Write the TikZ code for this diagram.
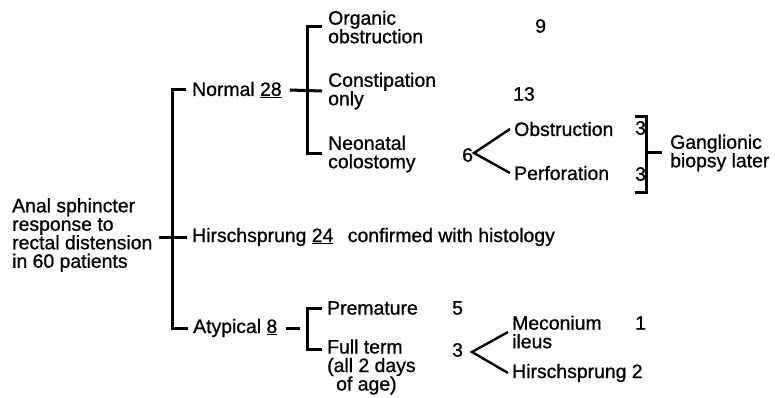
\documentclass[tikz,border=0pt]{standalone}
\usepackage{fontspec}
\setmainfont{Liberation Sans}[FakeBold=0.9]

\begin{document}
\begin{tikzpicture}[x=1pt,y=-1pt,
	txt/.style={anchor=west,inner sep=0pt,align=left,font=\fontsize{19.4}{18.5}\selectfont},
	bar/.style={line width=3pt},
	fork/.style={line width=2.4pt}]
	\useasboundingbox (0,0) rectangle (775,398);

	% first level
	\node[txt] (root) at (12,235) {Anal sphincter\\response to\\rectal distension\\in 60 patients};
	\node[txt] (normal) at (192,90) {Normal \underline{28}};
	\node[txt] (hirsch) at (192,237) {Hirschsprung \underline{24}\hspace{9pt} confirmed with histology};
	\node[txt] (atyp) at (193,328) {Atypical \underline{8}};

	\draw[bar] ([xshift=-6pt]normal.west) -- ++(-14,0) |- ([xshift=-5pt]atyp.west);
	\draw[bar] ([xshift=6pt]root.east |- hirsch.west) -- ([xshift=-5pt]hirsch.west);

	% normal branch
	\node[txt] (organic) at (328,27) {Organic\\obstruction};
	\node[txt] (constip) at (328,91) {Constipation\\only};
	\node[txt] (neonat) at (328,154) {Neonatal\\colostomy};
	\node[txt] (n9) at (535,26) {9};
	\node[txt] (n13) at (513,94) {13};
	\node[txt] (n6) at (462,155) {6};

	\draw[bar] ([xshift=-6pt]organic.west) -- ++(-15,0) |- ([xshift=-6pt]neonat.west);
	\draw[bar] ([xshift=8pt]normal.east) -- ([xshift=-6pt]constip.west);

	\node[txt] (obstr) at (514,129) {Obstruction};
	\node[txt] (perfor) at (514,173) {Perforation};
	\node[txt] (n3a) at (635,128) {3};
	\node[txt] (n3b) at (635,174) {3};
	\node[txt] (gangl) at (670,153) {Ganglionic\\biopsy later};
	\coordinate (fork1) at (474,153);

	\draw[fork] ([xshift=-4pt]obstr.west) -- (fork1) -- ([xshift=-4pt]perfor.west);
	\draw[bar] ([yshift=4pt]n3a.north west) -- ++(11,0) -- ++(0,76) -- ++(-11,0);
	\draw[bar] ([xshift=-8pt]gangl.west) -- ++(-16,0);

	% atypical branch
	\node[txt] (premat) at (327,308) {Premature};
	\node[txt] (fullterm) at (327,367) {Full term\\(all 2 days\\\hspace*{9pt}of age)};
	\node[txt] (n5) at (452,308) {5};
	\node[txt] (n3c) at (452,350) {3};

	\draw[bar] ([xshift=-5pt]premat.west) -- ++(-15,0) |- ([xshift=-5pt,yshift=18pt]fullterm.west);
	\draw[bar] ([xshift=8pt]atyp.east) -- ++(14,0);

	\node[txt] (mecon) at (512,332) {Meconium\\ileus};
	\node[txt] (n1) at (635,323) {1};
	\node[txt] (hirsch2) at (512,373) {Hirschsprung 2};
	\coordinate (fork2) at (472,352);

	\draw[fork] ([xshift=-4pt]mecon.west) -- (fork2) -- ([xshift=-4pt]hirsch2.west);
\end{tikzpicture}
\end{document}
